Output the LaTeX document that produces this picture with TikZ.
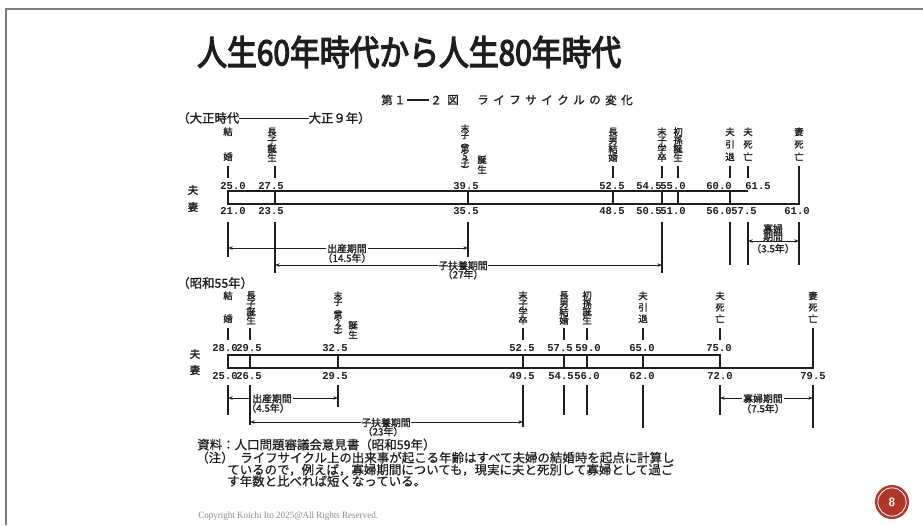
\documentclass[tikz,border=0pt]{standalone}
\usepackage{fontspec}
\usepackage{graphicx}
\usetikzlibrary{arrows.meta}
\setmainfont{Liberation Serif}
\newfontfamily\jp{Noto Sans CJK JP}[FakeBold=0.6]
\newfontfamily\jpb{Noto Sans CJK JP}[FakeBold=1.4]
\newfontfamily\jpt{Noto Sans CJK JP}[FakeBold=4]
\newfontfamily\nm{Liberation Mono}
\definecolor{ink}{HTML}{1E1E1E}
\definecolor{framegray}{HTML}{7C7C7C}
\definecolor{badge}{HTML}{B0352B}
\definecolor{copygray}{HTML}{8A8A8A}
\newcommand{\vstack}[6]{% style, name, x, ytop, pitch, list
  \foreach \c [count=\i from 0] in {#6}{\node[#1] (#2\i) at (#3,{#4+\i*#5}) {\c};}}
\begin{document}
\begin{tikzpicture}[x=0.75pt,y=-0.75pt,
  frameline/.style={draw=framegray, line width=1.5pt},
  titletext/.style={font=\jpt\fontsize{26}{26}\selectfont, text=ink, inner sep=0pt},
  subch/.style={font=\jpb\fontsize{8.6}{8.6}\selectfont, text=ink, inner sep=0pt},
  era/.style={font=\jpb\fontsize{9.3}{9.3}\selectfont, text=ink, inner sep=0pt, anchor=west},
  vch/.style={font=\jpb\fontsize{7}{7}\selectfont, text=ink, inner sep=0pt, text height=0.68em, text depth=0.04em},
  vchs/.style={font=\jpb\fontsize{6.4}{6.4}\selectfont, text=ink, inner sep=0pt, text height=0.55em, text depth=0.02em},
  fufu/.style={font=\jpb\fontsize{8}{8}\selectfont, text=ink, inner sep=0pt},
  val/.style={font=\nm\bfseries\fontsize{7.9}{7.9}\selectfont, text=ink, inner sep=0pt},
  bar/.style={draw=ink, line width=1.2pt},
  divline/.style={draw=ink, line width=0.9pt},
  tickline/.style={draw=ink, line width=0.9pt},
  dropline/.style={draw=ink, line width=1pt},
  spanline/.style={draw=ink, line width=0.6pt, {Stealth[length=3.5pt,width=2.6pt]}-{Stealth[length=3.5pt,width=2.6pt]}},
  lab/.style={font=\jpb\fontsize{7.4}{7.4}\selectfont, text=ink, inner sep=0.6pt, fill=white, text height=0.7em, text depth=0.05em},
  note/.style={font=\jp\fontsize{9.35}{9.35}\selectfont, text=ink, inner sep=0pt, anchor=west, text height=0.75em, text depth=0.1em},
]
\useasboundingbox (0,0) rectangle (923,525);
\fill[white] (0,0) rectangle (923,525);
\draw[frameline] (6,525) -- (6,9) -- (923,9);

% title
\node[titletext, anchor=west] (title) at (197,52) {\scalebox{0.86}[1]{人生60年時代から人生80年時代}};

% subtitle
\node[subch] (s0) at (387,100) {第};
\node[subch] (s1) at (400,100) {１};
\node[inner sep=0pt] (s2) at (418,100) {\color{ink}\rule{16pt}{0.8pt}};
\node[subch] (s3) at (436,100) {２};
\node[subch] (s4) at (453,100) {図};
\foreach \c [count=\i from 0] in {ラ,イ,フ,サ,イ,ク,ル,の,変,化}
  {\node[subch] (t\i) at ({483+16*\i},100) {\c};}

% ---------------- Taisho ----------------
\node[era] (eraA) at (177,118) {（大正時代\rule[0.33em]{52pt}{0.09em}大正９年）};
\vstack{vch}{kekA}{228}{131}{25}{結,婚}
\vstack{vch}{chsA}{272}{131}{8.6}{長,子,誕,生}
\vstack{vchs}{msA}{465}{128}{6.9}{末,子,︵,第,5,子,︶}
\vstack{vch}{tjA}{482}{159}{9.8}{誕,生}
\vstack{vch}{cnA}{613}{131}{8.6}{長,男,結,婚}
\vstack{vch}{gsA}{662}{131}{8.6}{末,子,学,卒}
\vstack{vch}{hmA}{678}{131}{8.6}{初,孫,誕,生}
\vstack{vch}{itA}{730}{131}{12.5}{夫,引,退}
\vstack{vch}{odA}{748}{131}{12.5}{夫,死,亡}
\vstack{vch}{tdA}{799}{131}{12.5}{妻,死,亡}
\foreach \x in {228,275,613,662,678,730,748} {\draw[tickline] (\x,166) -- (\x,178);}

\node[fufu] (huA) at (193,190) {夫};
\node[fufu] (waA) at (193,207) {妻};
\foreach \v/\x in {25.0/233,27.5/271,39.5/466,52.5/612,54.5/649,55.0/673,60.0/719,61.5/758}
  {\node[val] (uA\x) at (\x,186) {\v};}
\foreach \v/\x in {21.0/233,23.5/271,35.5/466,48.5/612,50.5/649,51.0/673,56.0/719,57.5/744,61.0/797}
  {\node[val] (lA\x) at (\x,211) {\v};}
\draw[bar] (748,191) -- (228,191) -- (228,204) -- (799,204) -- (799,166);
\foreach \x in {275,468,613,662,678,730} {\draw[divline] (\x,191) -- (\x,204);}

\foreach \x/\yb in {228/257,275/273,468/257,662/273,730/265,748/265,799/265}
  {\draw[dropline] (\x,222) -- (\x,\yb);}
\coordinate (a1l) at (228,248); \coordinate (a1r) at (468,248);
\coordinate (a2l) at (275,265); \coordinate (a2r) at (662,265);
\coordinate (a3l) at (748,241); \coordinate (a3r) at (799,241);
\draw[spanline] (a1l) -- (a1r);
\draw[spanline] (a2l) -- (a2r);
\draw[spanline] (a3l) -- (a3r);
\node[lab] (bA) at (347,248) {出産期間};
\node[lab, fill=none] (bAy) at (347,257.5) {（14.5年）};
\node[lab] (cA) at (463,265) {子扶養期間};
\node[lab, fill=none] (cAy) at (463,274) {（27年）};
\node[lab, fill=none] (wA1) at (773,228) {寡婦};
\node[lab, fill=none] (wA2) at (773,236) {期間};
\node[lab, fill=none] (wAy) at (773,248) {（3.5年）};

% ---------------- Showa ----------------
\node[era] (eraB) at (177,283) {（昭和55年）};
\vstack{vch}{kekB}{228}{295}{23}{結,婚}
\vstack{vch}{chsB}{251}{294.5}{8.4}{長,子,誕,生}
\vstack{vchs}{msB}{338}{295}{6.7}{末,子,︵,第,2,子,︶}
\vstack{vch}{tjB}{353}{324.5}{9.5}{誕,生}
\vstack{vch}{gsB}{523}{294.5}{8.4}{末,子,学,卒}
\vstack{vch}{cnB}{564}{294.5}{8.4}{長,男,結,婚}
\vstack{vch}{hmB}{587}{294.5}{8.4}{初,孫,誕,生}
\vstack{vch}{itB}{643}{295}{11.5}{夫,引,退}
\vstack{vch}{odB}{720}{295}{11.5}{夫,死,亡}
\vstack{vch}{tdB}{813}{295}{11.5}{妻,死,亡}
\foreach \x in {228,250,523,564,587,643,720} {\draw[tickline] (\x,328) -- (\x,340);}

\node[fufu] (huB) at (195,354) {夫};
\node[fufu] (waB) at (195,370) {妻};
\foreach \v/\x in {28.0/225,29.5/249,32.5/335,52.5/522,57.5/560,59.0/588,65.0/642,75.0/719}
  {\node[val] (uB\x) at (\x,348) {\v};}
\foreach \v/\x in {25.0/225,26.5/249,29.5/335,49.5/522,54.5/561,56.0/587,62.0/642,72.0/720,79.5/813}
  {\node[val] (lB\x) at (\x,376) {\v};}
\draw[bar] (720,368) -- (720,355) -- (228,355) -- (228,368) -- (813,368) -- (813,328);
\foreach \x in {250,338,523,564,587,643} {\draw[divline] (\x,355) -- (\x,368);}

\foreach \x/\yb in {228/415,250/425,338/407,523/427,564/415,587/415,643/428,720/415,813/428}
  {\draw[dropline] (\x,385) -- (\x,\yb);}
\coordinate (b1l) at (228,398); \coordinate (b1r) at (338,398);
\coordinate (b2l) at (250,422); \coordinate (b2r) at (523,422);
\coordinate (b3l) at (720,398); \coordinate (b3r) at (813,398);
\draw[spanline] (b1l) -- (b1r);
\draw[spanline] (b2l) -- (b2r);
\draw[spanline] (b3l) -- (b3r);
\node[lab] (bB) at (272,398) {出産期間};
\node[lab, fill=none] (bBy) at (268,407.5) {（4.5年）};
\node[lab] (cB) at (386,422) {子扶養期間};
\node[lab, fill=none] (cBy) at (383,431) {（23年）};
\node[lab] (wB) at (763,398) {寡婦期間};
\node[lab, fill=none] (wBy) at (763,408) {（7.5年）};

% ---------------- notes ----------------
\node[note] (src) at (197,445) {資料：人口問題審議会意見書（昭和59年）};
\node[note] (chu) at (196,458) {（注）};
\node[note] (n1) at (240,458) {ライフサイクル上の出来事が起こる年齢はすべて夫婦の結婚時を起点に計算し};
\node[note] (n2) at (227,470) {ているので，例えば，寡婦期間についても，現実に夫と死別して寡婦として過ご};
\node[note] (n3) at (227,481.5) {す年数と比べれば短くなっている。};

\node[anchor=west, inner sep=0pt, text=copygray, font=\fontsize{7.2}{7.2}\selectfont] (copy) at (198,516)
  {\scalebox{0.94}[1]{Copyright Koichi Ito 2025@All Rights Reserved.}};

\node[circle, fill=badge, minimum size=25.5pt, inner sep=0pt, text=white,
  font=\sffamily\bfseries\fontsize{9}{9}\selectfont] (page) at (892,502) {8};
\draw[white, line width=0.6pt] (page.center) circle [radius=10.6pt];
\end{tikzpicture}
\end{document}
